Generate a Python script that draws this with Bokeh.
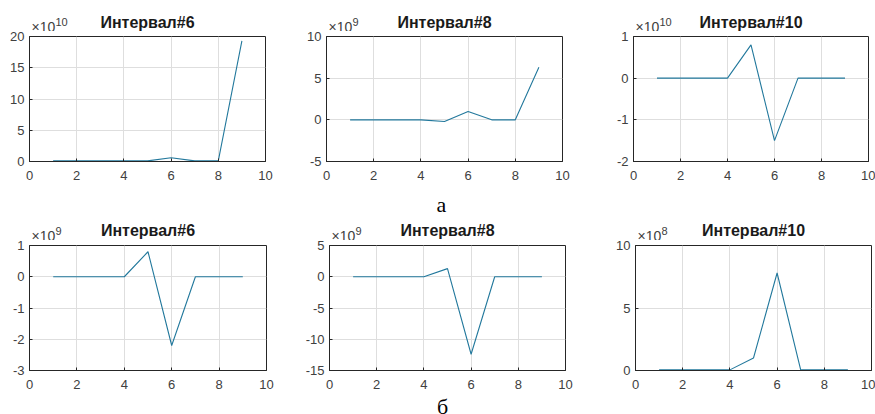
from bokeh.plotting import figure
from bokeh.layouts import column, row
from bokeh.models import Range1d, FixedTicker, Label, CustomJSTickFormatter
from bokeh.embed import file_html
from bokeh.resources import INLINE

# Sample index along the x axis
x = [1, 2, 3, 4, 5, 6, 7, 8, 9]

# Row "а" — values in units of 10^exp
titles_a = ["Интервал#6", "Интервал#8", "Интервал#10"]
a_int6 = [0.1, 0.1, 0.1, 0.1, 0.1, 0.6, 0.1, 0.1, 19.3]     # ×10^10
a_int8 = [0.0, 0.0, 0.0, 0.0, -0.2, 1.0, 0.0, 0.0, 6.3]     # ×10^9
a_int10 = [0.0, 0.0, 0.0, 0.0, 0.8, -1.5, 0.0, 0.0, 0.0]    # ×10^10
exp_a = ["10", "9", "10"]
yticks_a = [[0, 5, 10, 15, 20], [-5, 0, 5, 10], [-2, -1, 0, 1]]

# Row "б"
titles_b = ["Интервал#6", "Интервал#8", "Интервал#10"]
b_int6 = [0.0, 0.0, 0.0, 0.0, 0.8, -2.2, 0.0, 0.0, 0.0]     # ×10^9
b_int8 = [0.0, 0.0, 0.0, 0.0, 1.3, -12.4, 0.0, 0.0, 0.0]    # ×10^9
b_int10 = [0.05, 0.05, 0.05, 0.05, 1.0, 7.8, 0.05, 0.05, 0.05]  # ×10^8
exp_b = ["9", "9", "8"]
yticks_b = [[-3, -2, -1, 0, 1], [-15, -10, -5, 0, 5], [0, 5, 10]]

xticks = [0, 2, 4, 6, 8, 10]
captions = ["а", "б"]

LINE = "#22789c"
AXIS = "#262626"
TICKTXT = "#404040"
FONT = "Liberation Sans"
W = 875

# Panel geometry: (border left, frame width, border right) per column
cols_a = [(29, 236, 31), (30, 236, 30), (41, 235, 7)]
cols_b = [(29, 237, 31), (32, 236, 32), (38, 236, 4)]
FRAME_H = 125


def panel(ys, yticks, geom, top, bottom):
    left, fw, right = geom
    p = figure(frame_width=fw, frame_height=FRAME_H,
               min_border_left=left, min_border_right=right,
               min_border_top=top, min_border_bottom=bottom,
               x_range=Range1d(0, 10), y_range=Range1d(yticks[0], yticks[-1]),
               output_backend="svg", toolbar_location=None, tools="")
    p.title.visible = False
    p.line(x, ys, line_color=LINE, line_width=1.1)

    p.xaxis.ticker = FixedTicker(ticks=xticks)
    p.yaxis.ticker = FixedTicker(ticks=yticks)
    for ax in (p.xaxis[0], p.yaxis[0]):
        ax.formatter = CustomJSTickFormatter(code="return String(Math.round(tick));")
        ax.major_tick_in = 3
        ax.major_tick_out = 0
        ax.minor_tick_line_color = None
        ax.axis_line_color = AXIS
        ax.major_tick_line_color = AXIS
        ax.major_label_text_font = FONT
        ax.major_label_text_font_size = "13px"
        ax.major_label_text_color = TICKTXT
    p.xaxis.major_label_standoff = 9
    p.yaxis.major_label_standoff = 5

    p.grid.grid_line_color = "#dedede"
    p.outline_line_color = AXIS
    p.outline_line_alpha = 1.0
    return p


def strip(height):
    # Text band in pixel coordinates (y grows downwards)
    s = figure(frame_width=W, frame_height=height, min_border=0,
               x_range=Range1d(0, W), y_range=Range1d(height, 0),
               x_axis_type=None, y_axis_type=None,
               output_backend="svg", toolbar_location=None, tools="")
    s.title.visible = False
    s.grid.visible = False
    s.outline_line_color = None
    return s


def text_label(x0, baseline, text, size, align="left", font=FONT,
               style="normal", color=TICKTXT):
    # Place a text by its baseline; the label is anchored at its middle
    return Label(x=x0, y=baseline - 0.31 * size, text=text, text_align=align,
                 text_baseline="middle", text_font=font, text_font_style=style,
                 text_font_size=f"{size}px", text_color=color)


def frame_lefts(cols):
    out, acc = [], 0
    for left, fw, right in cols:
        out.append(acc + left)
        acc += left + fw + right
    return out


def headers(s, cols, titles, exps, title_y, exp_y):
    for fl, (left, fw, right), t, e in zip(frame_lefts(cols), cols, titles, exps):
        s.add_layout(text_label(fl + fw / 2, title_y, t, 16, align="center",
                                style="bold", color="#1a1a1a"))
        s.add_layout(text_label(fl + 2, exp_y, "×10", 14))
        s.add_layout(text_label(fl + 26, exp_y - 6, e, 11))


def caption(s, cols, text, y, dx):
    fl = frame_lefts(cols)[1]
    fw = cols[1][1]
    s.add_layout(text_label(fl + fw / 2 + dx, y, text, 22, align="center",
                            font="Liberation Serif", color="black"))


# Header band above row "а"
s1 = strip(31)
headers(s1, cols_a, titles_a, exp_a, 27, 31)

p1 = panel(a_int6, yticks_a[0], cols_a[0], 5, 24)
p2 = panel(a_int8, yticks_a[1], cols_a[1], 5, 24)
p3 = panel(a_int10, yticks_a[2], cols_a[2], 5, 24)

# Caption "а" and header band above row "б"
s2 = strip(55)
caption(s2, cols_a, captions[0], 26, -3)
headers(s2, cols_b, titles_b, exp_b, 50, 55)

p4 = panel(b_int6, yticks_b[0], cols_b[0], 5, 22)
p5 = panel(b_int8, yticks_b[1], cols_b[1], 5, 22)
p6 = panel(b_int10, yticks_b[2], cols_b[2], 5, 22)

# Caption "б"
s3 = strip(22)
caption(s3, cols_b, captions[1], 21, -5)

layout = column(s1, row(p1, p2, p3), s2, row(p4, p5, p6), s3)
open("out.html", "w").write(file_html(layout, INLINE))
